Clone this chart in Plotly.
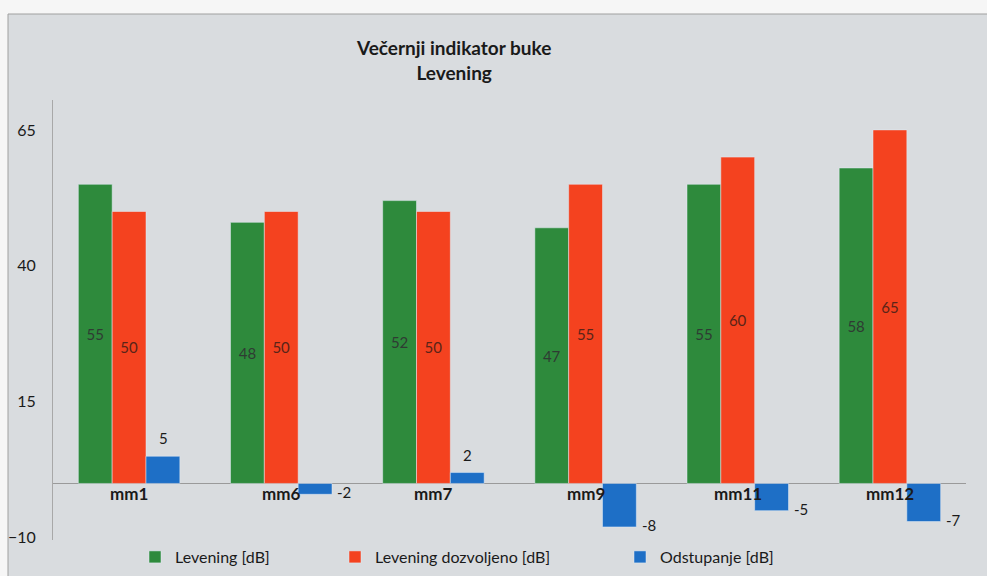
import plotly.graph_objects as go

categories = ["mm1", "mm6", "mm7", "mm9", "mm11", "mm12"]
levening = [55, 48, 52, 47, 55, 58]
dozvoljeno = [50, 50, 50, 55, 60, 65]
odstupanje = [5, -2, 2, -8, -5, -7]
series_names = ["Levening [dB]", "Levening dozvoljeno [dB]", "Odstupanje [dB]"]
y_ticks = [-10, 15, 40, 65]

FONT = "Lato, 'Open Sans', sans-serif"
W, H = 987, 576
ML, MR, MT, MB = 53, 21, 100, 36
PW, PH = W - ML - MR, H - MT - MB


def px_x(px):
    return (px - ML) / PW


def px_y(py):
    return (H - MB - py) / PH


fig = go.Figure()
fig.add_trace(go.Bar(
    x=categories, y=levening, name=series_names[0], marker_color="#2e8a3c",
    text=[str(v) for v in levening], textposition="inside", insidetextanchor="middle",
    textfont=dict(color="#2f3b33", size=15, family=FONT), textangle=0,
    legend="legend"))
fig.add_trace(go.Bar(
    x=categories, y=dozvoljeno, name=series_names[1], marker_color="#f4421f",
    text=[str(v) for v in dozvoljeno], textposition="inside", insidetextanchor="middle",
    textfont=dict(color="#5a2418", size=15, family=FONT), textangle=0,
    legend="legend2"))
fig.add_trace(go.Bar(
    x=categories, y=odstupanje, name=series_names[2], marker_color="#1e6fc6",
    legend="legend3"))

annotations = []
for c in categories:
    annotations.append(dict(x=c, y=0, xref="x", yref="y", text="<b>%s</b>" % c,
                            showarrow=False, yanchor="top", yshift=2,
                            font=dict(size=17, color="#1a1a1a", family=FONT)))
for c, v in zip(categories, odstupanje):
    if v >= 0:
        annotations.append(dict(x=c, y=v, xref="x", yref="y", text=str(v),
                                showarrow=False, yanchor="bottom", xshift=34, yshift=7,
                                font=dict(size=15, color="#1a1a1a", family=FONT)))
    else:
        annotations.append(dict(x=c, y=v, xref="x", yref="y", text=str(v),
                                showarrow=False, yanchor="middle", xanchor="left", xshift=54,
                                yshift=2,
                                font=dict(size=15, color="#1a1a1a", family=FONT)))
annotations.append(dict(x=px_x(453), y=px_y(60), xref="paper", yref="paper",
                        text="<b>Večernji indikator buke</b><br><b>Levening</b>",
                        showarrow=False, xanchor="center", yanchor="middle",
                        font=dict(size=19, color="#1a1a1a", family=FONT)))

leg_common = dict(orientation="h", xanchor="left", yanchor="middle",
                  bgcolor="rgba(0,0,0,0)", y=px_y(557),
                  font=dict(size=16, family=FONT, color="#1a1a1a"))

fig.update_layout(
    width=W, height=H,
    margin=dict(l=ML, r=MR, t=MT, b=MB, autoexpand=False),
    paper_bgcolor="#f6f6f6",
    plot_bgcolor="#e1e4e6",
    barmode="group", bargap=0.333, bargroupgap=0,
    font=dict(family=FONT, size=14, color="#1a1a1a"),
    showlegend=True,
    annotations=annotations,
    xaxis=dict(showticklabels=False, showline=False, ticks="", showgrid=False, zeroline=False),
    yaxis=dict(range=[-10.4, 70.5], tickvals=y_ticks, showgrid=False, zeroline=True,
               zerolinecolor="#9a9a9a", zerolinewidth=1, showline=True, linecolor="#a8a8a8",
               linewidth=1, ticks="", ticklabelstandoff=13,
               tickfont=dict(size=16, color="#1a1a1a", family=FONT)),
    shapes=[dict(type="rect", xref="paper", yref="paper", layer="below",
                 x0=px_x(8), x1=px_x(W + 5), y0=px_y(H + 5), y1=px_y(14),
                 fillcolor="#d9dcdf", line=dict(color="#a0a0a0", width=1))],
    legend=dict(leg_common, x=px_x(135)),
    legend2=dict(leg_common, x=px_x(335)),
    legend3=dict(leg_common, x=px_x(620)),
)

fig.write_html("out.html", config={"displayModeBar": False},
               post_script="document.body.style.margin='0';")
